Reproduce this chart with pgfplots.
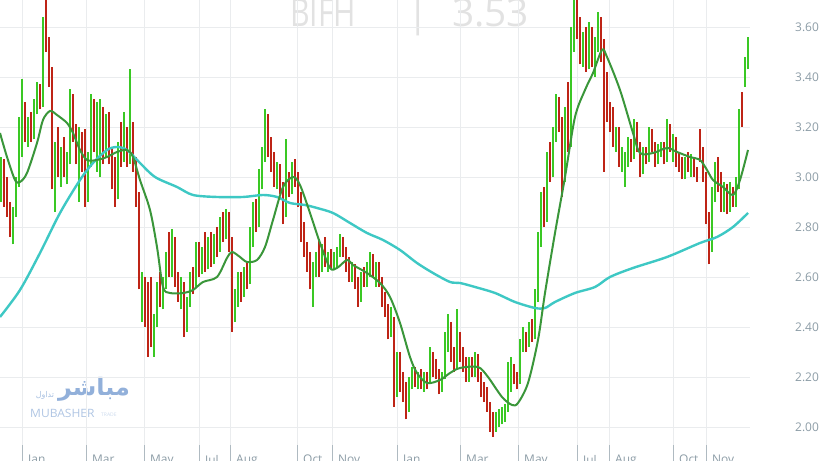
\documentclass[border=0pt]{standalone}
\usepackage{fontspec}
\setmainfont{Open Sans}
\newfontfamily\arabicfont[Script=Arabic]{DejaVu Sans}
\TeXXeTstate=1
\usepackage{graphicx}
\usepackage{pgfplots}
\usepackage{pgfplotstable}
\pgfplotsset{compat=1.18}

\definecolor{candleup}{RGB}{58,200,36}
\definecolor{candledn}{RGB}{190,36,22}
\definecolor{maslow}{RGB}{58,150,58}
\definecolor{malong}{RGB}{62,200,196}
\definecolor{gridgray}{RGB}{234,236,238}
\definecolor{labelgray}{RGB}{140,156,166}
\definecolor{markblue}{RGB}{110,150,205}
\definecolor{titlegray}{RGB}{226,226,226}

% daily candles: x position, open, high, low, close
\pgfplotstableread{
x o h l c
1 2.92 3.08 2.90 3.05
4 3.04 3.07 2.88 2.92
7 2.93 3.00 2.84 2.86
10 2.86 2.90 2.76 2.79
13 2.80 2.88 2.73 2.85
16 2.86 3.00 2.84 2.98
19 2.97 3.24 2.96 3.14
22 3.10 3.39 3.08 3.25
25 3.26 3.30 3.14 3.17
28 3.17 3.24 3.12 3.21
31 3.21 3.26 3.14 3.16
34 3.17 3.31 3.15 3.28
37 3.28 3.38 3.25 3.35
40 3.35 3.37 3.27 3.29
43 3.30 3.64 3.28 3.58
46 3.58 3.71 3.50 3.52
49 3.52 3.56 3.36 3.40
52 3.40 3.44 2.95 3.02
55 3.00 3.14 2.86 3.10
58 3.10 3.20 3.00 3.04
61 3.04 3.12 2.96 3.09
64 3.09 3.16 3.00 3.02
67 3.02 3.10 2.97 3.07
70 3.07 3.35 3.05 3.30
73 3.30 3.33 3.14 3.16
76 3.16 3.21 3.05 3.08
79 3.08 3.20 2.90 3.15
82 3.15 3.18 3.02 3.05
85 3.05 3.19 2.88 2.92
88 2.92 3.10 2.90 3.06
91 3.06 3.33 3.04 3.27
94 3.27 3.31 3.10 3.13
97 3.13 3.30 3.02 3.25
100 3.05 3.31 3.00 3.24
103 3.24 3.28 3.05 3.10
106 3.10 3.25 3.08 3.22
109 3.22 3.26 3.05 3.08
112 3.08 3.12 2.95 2.98
115 3.02 3.08 2.88 2.92
118 2.93 3.14 2.91 3.10
121 3.10 3.22 3.04 3.08
124 3.08 3.26 3.06 3.18
127 3.18 3.20 3.04 3.07
130 3.07 3.43 3.05 3.20
133 3.20 3.22 3.02 3.05
136 3.05 3.08 2.88 2.92
139 2.92 2.94 2.55 2.60
142 2.52 2.62 2.42 2.58
145 2.58 2.60 2.40 2.45
148 2.48 2.58 2.28 2.35
151 2.55 2.60 2.32 2.38
154 2.38 2.45 2.28 2.42
157 2.42 2.58 2.40 2.55
160 2.55 2.62 2.48 2.52
163 2.52 2.60 2.47 2.57
166 2.57 2.70 2.55 2.68
169 2.68 2.78 2.60 2.63
172 2.63 2.79 2.60 2.74
175 2.74 2.76 2.56 2.59
178 2.59 2.62 2.50 2.53
181 2.53 2.60 2.47 2.56
184 2.56 2.58 2.36 2.42
187 2.42 2.52 2.38 2.50
190 2.50 2.62 2.48 2.60
193 2.60 2.64 2.53 2.57
196 2.57 2.74 2.56 2.70
199 2.70 2.74 2.60 2.63
202 2.63 2.72 2.61 2.69
205 2.69 2.78 2.62 2.65
208 2.65 2.76 2.63 2.73
211 2.73 2.78 2.64 2.67
214 2.67 2.77 2.65 2.74
217 2.74 2.80 2.68 2.71
220 2.71 2.84 2.70 2.81
223 2.81 2.86 2.74 2.77
226 2.77 2.87 2.75 2.84
229 2.84 2.86 2.70 2.73
232 2.73 2.76 2.38 2.44
235 2.44 2.55 2.42 2.52
238 2.52 2.62 2.48 2.58
241 2.58 2.62 2.50 2.54
244 2.54 2.64 2.52 2.61
247 2.61 2.66 2.55 2.58
250 2.58 2.80 2.57 2.76
253 2.76 2.90 2.72 2.86
256 2.86 2.91 2.78 2.82
259 2.82 3.03 2.80 2.99
262 2.99 3.12 2.95 3.08
265 3.08 3.27 3.06 3.22
268 3.22 3.25 3.08 3.12
271 3.12 3.16 3.02 3.05
274 3.05 3.10 2.96 2.99
277 2.99 3.06 2.95 3.03
280 3.03 3.05 2.93 2.96
283 2.96 2.98 2.81 2.86
286 2.86 3.15 2.84 3.00
289 3.00 3.02 2.92 2.95
292 2.95 3.06 2.93 3.04
295 3.04 3.07 2.96 2.98
298 2.98 3.02 2.88 2.91
301 2.91 2.94 2.74 2.78
304 2.78 2.82 2.68 2.72
307 2.72 2.74 2.62 2.66
310 2.66 2.70 2.55 2.58
313 2.58 2.66 2.48 2.62
316 2.62 2.70 2.60 2.68
319 2.68 2.75 2.60 2.64
322 2.64 2.73 2.62 2.71
325 2.71 2.76 2.64 2.67
328 2.67 2.70 2.62 2.68
331 2.68 2.71 2.63 2.65
334 2.65 2.70 2.63 2.69
337 2.69 2.72 2.64 2.70
340 2.70 2.77 2.68 2.75
343 2.75 2.76 2.68 2.70
346 2.70 2.72 2.62 2.65
349 2.65 2.68 2.58 2.61
352 2.61 2.66 2.58 2.64
355 2.64 2.65 2.55 2.57
358 2.57 2.60 2.48 2.52
361 2.52 2.62 2.50 2.60
364 2.60 2.64 2.56 2.58
367 2.58 2.66 2.56 2.62
370 2.62 2.70 2.60 2.67
373 2.67 2.69 2.60 2.62
376 2.62 2.66 2.56 2.64
379 2.64 2.66 2.56 2.58
382 2.58 2.60 2.48 2.51
385 2.51 2.54 2.44 2.46
388 2.46 2.49 2.35 2.38
391 2.38 2.48 2.36 2.44
394 2.42 2.44 2.08 2.15
397 2.15 2.30 2.12 2.26
400 2.26 2.30 2.14 2.17
403 2.17 2.22 2.10 2.13
406 2.13 2.18 2.03 2.08
409 2.08 2.20 2.06 2.17
412 2.17 2.24 2.15 2.22
415 2.22 2.24 2.16 2.18
418 2.18 2.22 2.15 2.21
421 2.21 2.23 2.15 2.17
424 2.17 2.22 2.14 2.20
427 2.20 2.22 2.15 2.18
430 2.18 2.32 2.17 2.29
433 2.29 2.30 2.20 2.23
436 2.23 2.27 2.19 2.21
439 2.21 2.23 2.13 2.16
442 2.16 2.22 2.14 2.20
445 2.20 2.38 2.19 2.34
448 2.34 2.45 2.30 2.40
451 2.40 2.42 2.26 2.28
454 2.28 2.32 2.22 2.25
457 2.25 2.47 2.23 2.36
460 2.36 2.38 2.26 2.29
463 2.29 2.32 2.22 2.25
466 2.25 2.28 2.18 2.20
469 2.20 2.28 2.18 2.26
472 2.26 2.28 2.20 2.22
475 2.22 2.30 2.20 2.27
478 2.27 2.29 2.18 2.20
481 2.20 2.22 2.12 2.14
484 2.14 2.18 2.10 2.12
487 2.12 2.16 2.06 2.08
490 2.08 2.10 1.98 2.02
493 2.04 2.06 1.96 1.99
496 1.99 2.06 1.98 2.05
499 2.02 2.07 2.00 2.06
502 2.04 2.08 2.01 2.07
505 2.05 2.09 2.02 2.08
508 2.08 2.26 2.06 2.22
511 2.16 2.28 2.14 2.24
514 2.24 2.25 2.17 2.19
517 2.19 2.22 2.15 2.18
520 2.18 2.35 2.17 2.32
523 2.32 2.40 2.30 2.37
526 2.37 2.38 2.30 2.33
529 2.33 2.42 2.32 2.40
532 2.40 2.43 2.34 2.36
535 2.36 2.55 2.35 2.52
538 2.52 2.78 2.50 2.74
541 2.74 2.94 2.72 2.88
544 2.88 2.96 2.80 2.84
547 2.84 3.10 2.82 3.05
550 3.05 3.14 2.98 3.02
553 3.02 3.20 3.00 3.16
556 3.16 3.33 3.14 3.28
559 3.28 3.32 3.18 3.21
562 3.21 3.24 2.92 3.00
565 3.00 3.28 2.98 3.20
568 3.20 3.38 3.10 3.14
571 3.14 3.60 3.12 3.55
574 3.55 3.71 3.50 3.68
577 3.68 3.71 3.55 3.60
580 3.60 3.64 3.45 3.48
583 3.48 3.58 3.44 3.54
586 3.54 3.60 3.42 3.45
589 3.45 3.62 3.43 3.58
592 3.58 3.60 3.44 3.47
595 3.47 3.56 3.40 3.52
598 3.52 3.66 3.50 3.62
601 3.62 3.64 3.46 3.50
604 3.50 3.55 3.02 3.12
607 3.40 3.42 3.22 3.26
610 3.26 3.30 3.18 3.22
613 3.22 3.28 3.12 3.15
616 3.15 3.20 3.10 3.18
619 3.18 3.20 3.04 3.07
622 3.07 3.12 3.02 3.10
625 3.05 3.10 2.96 3.08
628 3.08 3.16 3.04 3.13
631 3.13 3.15 3.06 3.08
634 3.08 3.23 3.07 3.20
637 3.20 3.22 3.10 3.12
640 3.12 3.14 3.00 3.03
643 3.03 3.12 3.01 3.10
646 3.10 3.12 3.05 3.07
649 3.07 3.20 3.06 3.17
652 3.17 3.19 3.10 3.12
655 3.12 3.14 3.04 3.06
658 3.06 3.13 3.05 3.11
661 3.11 3.14 3.08 3.12
664 3.12 3.14 3.05 3.07
667 3.07 3.23 3.06 3.20
670 3.20 3.21 3.10 3.13
673 3.13 3.17 3.06 3.15
676 3.15 3.16 3.04 3.06
679 3.06 3.10 3.02 3.04
682 3.04 3.08 2.99 3.01
685 3.01 3.08 2.99 3.06
688 3.06 3.10 3.02 3.04
691 3.04 3.09 3.00 3.07
694 3.07 3.08 3.00 3.02
697 3.02 3.04 2.98 3.00
700 3.16 3.19 3.06 3.08
703 3.08 3.12 2.98 3.00
706 3.00 3.02 2.81 2.84
709 2.84 2.86 2.65 2.72
712 2.72 2.96 2.70 2.92
715 2.92 3.06 2.90 3.02
718 3.02 3.08 2.94 2.97
721 2.97 3.02 2.86 2.89
724 2.89 2.98 2.86 2.95
727 2.95 2.97 2.85 2.88
730 2.88 2.98 2.86 2.94
733 2.94 2.96 2.88 2.90
736 2.90 3.00 2.88 2.97
739 2.97 3.27 2.95 3.22
742 3.32 3.34 3.20 3.23
745 3.38 3.48 3.36 3.45
748 3.45 3.56 3.43 3.53
}\candles

\pgfplotsset{
  wick/.style={draw=none, mark=none, forget plot,
    /pgfplots/error bars/y dir=plus, /pgfplots/error bars/y explicit,
    /pgfplots/error bars/error mark=none,
    /pgfplots/error bars/error bar style={draw=#1, line width=1.2bp}},
  body/.style={draw=none, mark=none, forget plot,
    /pgfplots/error bars/y dir=plus, /pgfplots/error bars/y explicit,
    /pgfplots/error bars/error mark=none,
    /pgfplots/error bars/error bar style={draw=#1, line width=2.6bp}},
  upday/.style={x filter/.expression={\thisrow{c}<\thisrow{o} ? nan : x}},
  downday/.style={x filter/.expression={\thisrow{c}<\thisrow{o} ? x : nan}},
}

\begin{document}
\begin{tikzpicture}[x=1bp,y=1bp]
\useasboundingbox (0,0) rectangle (819,461);
\clip (0,0) rectangle (819,461);

% watermark title
\node[anchor=base west, inner sep=0pt, text=titlegray, font=\fontsize{39}{40}\selectfont] at (290,434) {\scalebox{0.78}[1]{BIFH}};
\node[anchor=base, inner sep=0pt, text=titlegray, font=\fontsize{39}{40}\selectfont] at (418,434) {|};
\node[anchor=base west, inner sep=0pt, text=titlegray, font=\fontsize{39}{40}\selectfont] at (452,434) {3.53};

% logo watermark
\node[text=markblue!75, font=\arabicfont\bfseries\fontsize{24}{26}\selectfont, inner sep=0pt] at (94,72) {\beginR مباشر\endR};
\node[text=markblue!60, font=\arabicfont\fontsize{8}{9}\selectfont, inner sep=0pt] at (45,66) {\beginR تداول\endR};
\node[text=markblue!55, font=\fontsize{11.5}{12}\selectfont, inner sep=0pt, anchor=base west] at (30,43) {\scalebox{1.05}[1]{MUBASHER}};
\node[text=markblue!35, font=\fontsize{5}{6}\selectfont, inner sep=0pt, anchor=base west] at (101,44) {TRADE};

\begin{axis}[
  at={(0bp,461bp)}, anchor=north west,
  scale only axis, width=750bp, height=445bp,
  xmin=0, xmax=750, ymin=1.928, ymax=3.708,
  axis line style={draw=none},
  xtick pos=bottom, ytick pos=right,
  xtick={22,86,144,199,230,297,332,397,460,518,577,609,673,706},
  xticklabels={Jan,Mar,May,Jul,Aug,Oct,Nov,Jan,Mar,May,Jul,Aug,Oct,Nov},
  ytick={2,2.2,2.4,2.6,2.8,3,3.2,3.4,3.6},
  xmajorgrids, ymajorgrids,
  grid style={draw=gridgray, line width=0.8bp},
  tick align=outside, major tick length=18bp,
  xtick style={draw=labelgray!70, line width=0.8bp},
  ytick style={draw=none},
  yticklabel pos=right,
  tick label style={font=\fontsize{12}{14}\selectfont, text=labelgray, inner sep=0pt},
  xticklabel style={anchor=north west, xshift=6bp, yshift=8bp},
  yticklabel style={anchor=west, xshift=27bp,
    /pgf/number format/.cd, fixed, fixed zerofill, precision=2, assume math mode=true},
]
% candles
\addplot[upday, wick=candleup] table[x=x, y=l, y error plus expr=\thisrow{h}-\thisrow{l}] {\candles};
\addplot[downday, wick=candledn] table[x=x, y=l, y error plus expr=\thisrow{h}-\thisrow{l}] {\candles};
\addplot[upday, body=candleup] table[x=x, y=o, y error plus expr=\thisrow{c}-\thisrow{o}] {\candles};
\addplot[downday, body=candledn] table[x=x, y=c, y error plus expr=\thisrow{o}-\thisrow{c}] {\candles};

% long moving average
\addplot[malong, line width=2.4bp, smooth, tension=0.5] coordinates {
(0,2.44) (20,2.548) (40,2.696) (60,2.856) (80,2.988) (93,3.056) (107,3.108)
(117,3.12) (127,3.108) (140,3.056) (155,3.0) (177,2.96) (193,2.928)
(217,2.92) (243,2.92) (263,2.928) (277,2.92) (290,2.896) (305,2.888)
(317,2.876) (333,2.856) (350,2.816) (367,2.776) (383,2.748) (400,2.708)
(417,2.656) (433,2.616) (450,2.58) (460,2.576) (475,2.56) (495,2.536)
(515,2.5) (535,2.476) (545,2.476) (555,2.5) (575,2.536) (595,2.56)
(610,2.6) (633,2.636) (667,2.68) (700,2.736) (717,2.76) (733,2.8) (748,2.856)
};
% short moving average
\addplot[maslow, line width=2bp, smooth, tension=0.5] coordinates {
(0,3.176) (7,3.08) (15,2.988) (20,2.98) (27,3.016) (37,3.136) (43,3.228)
(50,3.264) (57,3.248) (67,3.216) (73,3.176) (80,3.108) (87,3.068) (97,3.068)
(107,3.08) (117,3.1) (127,3.108) (133,3.08) (140,2.988) (150,2.868)
(157,2.72) (163,2.56) (170,2.536) (183,2.536) (193,2.548) (203,2.58)
(217,2.6) (227,2.676) (232,2.7) (240,2.68) (247,2.66) (257,2.668)
(265,2.72) (273,2.828) (283,2.96) (293,3.0) (300,2.968) (310,2.856)
(320,2.736) (330,2.636) (337,2.636) (347,2.668) (353,2.648) (367,2.616)
(380,2.576) (390,2.52) (400,2.416) (410,2.28) (417,2.216) (427,2.176)
(440,2.188) (450,2.216) (460,2.236) (478,2.24) (488,2.2) (502,2.12)
(512,2.088) (518,2.096) (528,2.176) (538,2.348) (545,2.536) (555,2.776)
(565,3.0) (575,3.24) (585,3.348) (593,3.416) (602,3.508) (607,3.48)
(620,3.348) (633,3.176) (640,3.096) (653,3.096) (667,3.116) (677,3.1)
(690,3.08) (700,3.068) (707,3.028) (713,2.988) (723,2.96) (733,2.928)
(740,2.988) (748,3.108)
};
\end{axis}
\end{tikzpicture}
\end{document}
